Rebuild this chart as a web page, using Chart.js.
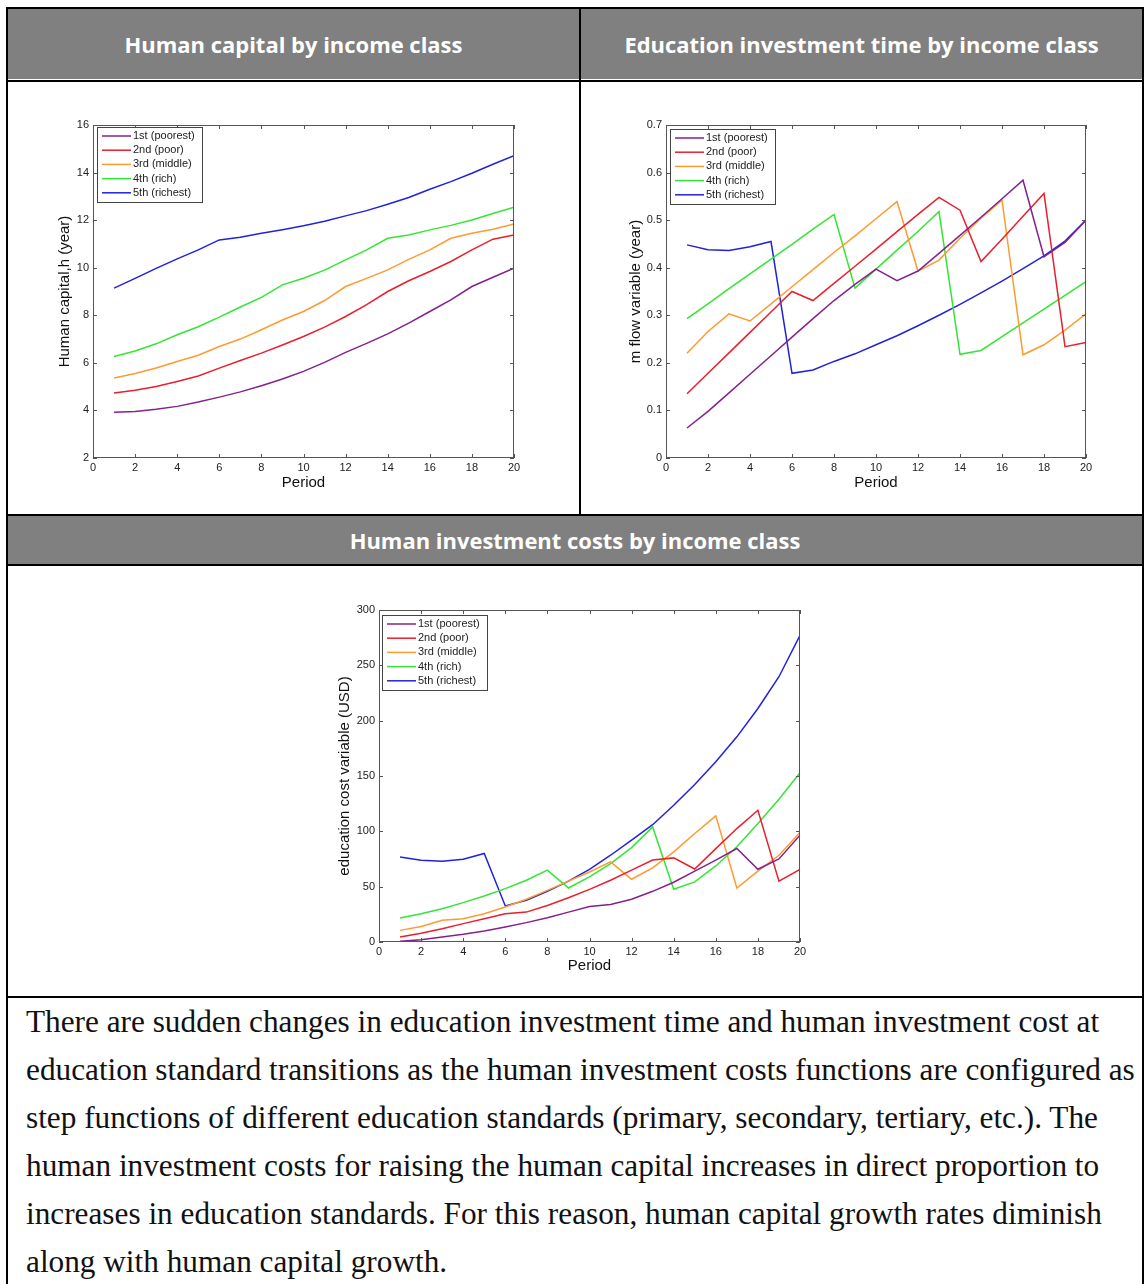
<!DOCTYPE html>
<html>
<head>
<meta charset="utf-8">
<script src="https://cdn.jsdelivr.net/npm/chart.js@4.4.0/dist/chart.umd.min.js"></script>
<style>
  body { margin: 0; background: #fff; width: 1145px; height: 1284px; overflow: hidden; position: relative; }
  .hdr { position: absolute; background: #808080; color: #fff; font-family: 'Open Sans', sans-serif; font-weight: 700; font-size: 20px;
         display: flex; align-items: center; justify-content: center; white-space: nowrap; }
  .ln { position: absolute; background: #000; }
  canvas { position: absolute; }
  #note { position: absolute; left: 26px; top: 998px; font-family: 'Liberation Serif', serif; font-size: 20px; line-height: 48px; white-space: nowrap; color: #111; }
  #note span { display: inline-block; }
</style>
</head>
<body>

<div class="hdr" style="left:8px;top:9px;width:571px;height:70px;">Human capital by income class</div>
<div class="hdr" style="left:581px;top:9px;width:561px;height:70px;">Education investment time by income class</div>
<div class="hdr" style="left:8px;top:516px;width:1134px;height:48px;">Human investment costs by income class</div>

<div class="ln" style="left:6px;top:7px;width:1138px;height:2px;"></div>
<div class="ln" style="left:6px;top:7px;width:2px;height:1277px;"></div>
<div class="ln" style="left:1142px;top:7px;width:2px;height:1277px;"></div>
<div class="ln" style="left:6px;top:80px;width:1138px;height:2px;"></div>
<div class="ln" style="left:579px;top:7px;width:2px;height:508px;"></div>
<div class="ln" style="left:6px;top:514px;width:1138px;height:2px;"></div>
<div class="ln" style="left:6px;top:564px;width:1138px;height:2px;"></div>
<div class="ln" style="left:6px;top:996px;width:1138px;height:2px;"></div>

<canvas id="capChart" width="480" height="390" style="left:50px;top:110px;"></canvas>
<canvas id="timeChart" width="490" height="390" style="left:615px;top:110px;"></canvas>
<canvas id="costChart" width="480" height="390" style="left:330px;top:595px;"></canvas>

<div id="note"></div>

<script>
const periods = [1, 2, 3, 4, 5, 6, 7, 8, 9, 10, 11, 12, 13, 14, 15, 16, 17, 18, 19, 20];
const classNames = ['1st (poorest)', '2nd (poor)', '3rd (middle)', '4th (rich)', '5th (richest)'];
const classColors = ['#86208c', '#e81f2c', '#ff9a30', '#33e633', '#2222d8'];

// human capital h (year)
const capPoorest = [3.92, 3.95, 4.05, 4.17, 4.35, 4.56, 4.78, 5.04, 5.32, 5.64, 6.02, 6.44, 6.82, 7.22, 7.67, 8.16, 8.65, 9.21, 9.6, 9.98];
const capPoor    = [4.73, 4.85, 5.01, 5.22, 5.45, 5.78, 6.1, 6.41, 6.75, 7.11, 7.5, 7.95, 8.45, 9.0, 9.45, 9.84, 10.26, 10.75, 11.2, 11.38];
const capMiddle  = [5.36, 5.55, 5.78, 6.06, 6.32, 6.69, 7.0, 7.39, 7.8, 8.16, 8.62, 9.21, 9.55, 9.91, 10.35, 10.75, 11.24, 11.45, 11.62, 11.84];
const capRich    = [6.27, 6.5, 6.8, 7.18, 7.52, 7.92, 8.35, 8.75, 9.28, 9.56, 9.9, 10.33, 10.75, 11.24, 11.38, 11.59, 11.78, 12.01, 12.28, 12.54];
const capRichest = [9.14, 9.55, 9.97, 10.37, 10.75, 11.17, 11.28, 11.45, 11.6, 11.76, 11.95, 12.18, 12.4, 12.67, 12.95, 13.3, 13.62, 13.97, 14.35, 14.71];

// m flow variable (year)
const timePoorest = [0.063, 0.098, 0.137, 0.176, 0.215, 0.254, 0.293, 0.331, 0.365, 0.397, 0.373, 0.393, 0.43, 0.468, 0.506, 0.545, 0.584, 0.423, 0.453, 0.5];
const timePoor    = [0.135, 0.178, 0.221, 0.264, 0.307, 0.35, 0.331, 0.367, 0.403, 0.439, 0.476, 0.512, 0.548, 0.521, 0.413, 0.46, 0.508, 0.556, 0.234, 0.243];
const timeMiddle  = [0.22, 0.266, 0.303, 0.288, 0.324, 0.36, 0.396, 0.432, 0.467, 0.503, 0.539, 0.393, 0.416, 0.462, 0.504, 0.542, 0.217, 0.238, 0.269, 0.303];
const timeRich    = [0.293, 0.324, 0.356, 0.387, 0.418, 0.449, 0.481, 0.512, 0.357, 0.397, 0.437, 0.476, 0.518, 0.218, 0.226, 0.255, 0.284, 0.313, 0.342, 0.371];
const timeRichest = [0.448, 0.438, 0.436, 0.444, 0.455, 0.178, 0.185, 0.203, 0.219, 0.238, 0.257, 0.278, 0.3, 0.323, 0.347, 0.372, 0.398, 0.425, 0.456, 0.5];

// education cost variable (USD)
const costPoorest = [0.6, 2, 4.5, 7, 10, 13.6, 17.5, 22, 27, 32, 33.8, 38.6, 45.8, 54, 64, 74, 84.5, 65.7, 75, 96.5];
const costPoor    = [4.5, 8, 12, 16.6, 21, 25.6, 27, 33, 40, 47.6, 55.8, 65, 74, 76, 66, 84.4, 102.5, 119, 55, 65.7];
const costMiddle  = [10.5, 14, 19.6, 21, 25.6, 31.7, 38.6, 46.7, 55, 63.3, 72.4, 56.7, 67, 81.4, 98, 114, 48.8, 64, 78.4, 99];
const costRich    = [21.7, 25.6, 30, 35.6, 41.6, 48.2, 55.8, 65, 48.8, 58.8, 70.8, 85.3, 104, 47.6, 54.3, 68.7, 86, 107, 129, 153];
const costRichest = [76.9, 73.9, 73, 74.8, 80, 32.6, 37.7, 45.8, 55, 65.7, 78.4, 92, 106, 123.6, 142.3, 162.8, 185.4, 211, 239.7, 277];

const yTicks = { cap: [2, 16, 2], time: [0, 0.7, 0.1], cost: [0, 300, 50] };
const xTicks = [0, 20, 2];

const noteLines = [
    'There are sudden changes in education investment time and human investment cost at',
    'education standard transitions as the human investment costs functions are configured as',
    'step functions of different education standards (primary, secondary, tertiary, etc.). The',
    'human investment costs for raising the human capital increases in direct proportion to',
    'increases in education standards. For this reason, human capital growth rates diminish',
    'along with human capital growth.'
];

// box with inward ticks and the legend in the upper left corner, matlab style
const matlabFrame = {
    id: 'matlabFrame',
    afterDatasetsDraw(chart, args, opts) {
        const { ctx, chartArea: a, scales: { x, y } } = chart;
        ctx.save();
        ctx.strokeStyle = '#555';
        ctx.lineWidth = 1;
        ctx.strokeRect(a.left + 0.5, a.top + 0.5, a.right - a.left - 1, a.bottom - a.top - 1);
        ctx.beginPath();
        x.ticks.forEach(t => {
            const px = Math.round(x.getPixelForValue(t.value)) + 0.5;
            ctx.moveTo(px, a.bottom); ctx.lineTo(px, a.bottom - 4);
            ctx.moveTo(px, a.top); ctx.lineTo(px, a.top + 4);
        });
        y.ticks.forEach(t => {
            const py = Math.round(y.getPixelForValue(t.value)) + 0.5;
            ctx.moveTo(a.left, py); ctx.lineTo(a.left + 4, py);
            ctx.moveTo(a.right, py); ctx.lineTo(a.right - 4, py);
        });
        ctx.stroke();

        const bx = a.left + opts.dx, by = a.top + opts.dy, bw = 105, rowH = 14.2;
        const bh = rowH * chart.data.datasets.length + 4;
        ctx.fillStyle = '#fff';
        ctx.fillRect(bx, by, bw, bh);
        ctx.strokeStyle = '#444';
        ctx.strokeRect(bx + 0.5, by + 0.5, bw, bh);
        ctx.font = '11px "Liberation Sans", Arial, sans-serif';
        ctx.textBaseline = 'middle';
        chart.data.datasets.forEach((ds, i) => {
            const cy = by + 9 + i * rowH;
            ctx.strokeStyle = ds.borderColor;
            ctx.lineWidth = 1.5;
            ctx.beginPath();
            ctx.moveTo(bx + 5, cy); ctx.lineTo(bx + 34, cy);
            ctx.stroke();
            ctx.fillStyle = '#222';
            ctx.fillText(ds.label, bx + 36, cy);
        });
        ctx.restore();
    }
};

function makeChart(id, series, yRange, yTitle, box) {
    const ctx = document.getElementById(id).getContext('2d');
    const datasets = series.map((vals, i) => ({
        label: classNames[i],
        data: periods.map((p, j) => ({ x: p, y: vals[j] })),
        borderColor: classColors[i],
        borderWidth: 1.5,
        pointRadius: 0,
        tension: 0,
        fill: false
    }));
    const tickFont = { family: '"Liberation Sans", Arial, sans-serif', size: 11 };
    const titleFont = { family: '"Liberation Sans", Arial, sans-serif', size: 15 };
    return new Chart(ctx, {
        type: 'line',
        data: { datasets: datasets },
        options: {
            responsive: false,
            animation: false,
            layout: { padding: { top: 15, right: box.padRight, left: 0, bottom: 0 } },
            plugins: {
                legend: { display: false },
                tooltip: { enabled: false },
                matlabFrame: { dx: box.legX, dy: box.legY }
            },
            scales: {
                x: {
                    type: 'linear',
                    min: xTicks[0], max: xTicks[1],
                    ticks: { stepSize: xTicks[2], color: '#222', font: tickFont, padding: 3, maxRotation: 0 },
                    grid: { display: false, drawTicks: false },
                    border: { display: false },
                    title: { display: true, text: 'Period', color: '#111', font: titleFont, padding: { top: 0, bottom: box.xTitlePad } },
                    afterFit: s => { s.height = box.xHeight; }
                },
                y: {
                    min: yRange[0], max: yRange[1],
                    ticks: { stepSize: yRange[2], color: '#222', font: tickFont, padding: 4 },
                    grid: { display: false, drawTicks: false },
                    border: { display: false },
                    title: { display: true, text: yTitle, color: '#111', font: titleFont, padding: { top: box.yTitlePad, bottom: 0 } },
                    afterFit: s => { s.width = box.yWidth; }
                }
            }
        },
        plugins: [matlabFrame]
    });
}

makeChart('capChart', [capPoorest, capPoor, capMiddle, capRich, capRichest], yTicks.cap, 'Human capital,h (year)',
    { padRight: 16, yWidth: 43, xHeight: 42, xTitlePad: 8, yTitlePad: 6, legX: 4, legY: 2 });
makeChart('timeChart', [timePoorest, timePoor, timeMiddle, timeRich, timeRichest], yTicks.time, 'm flow variable (year)',
    { padRight: 19, yWidth: 51, xHeight: 42, xTitlePad: 8, yTitlePad: 12, legX: 4, legY: 4 });
makeChart('costChart', [costPoorest, costPoor, costMiddle, costRich, costRichest], yTicks.cost, 'education cost variable (USD)',
    { padRight: 10, yWidth: 49, xHeight: 43, xTitlePad: 10, yTitlePad: 6, legX: 3, legY: 5 });

// header text: scale Open Sans so the first title spans the same width as in the table
const first = document.querySelector('.hdr');
const probe = document.createElement('span');
probe.textContent = first.textContent;
first.appendChild(probe);
const hdrSize = 20 * 338 / probe.getBoundingClientRect().width;
first.removeChild(probe);
document.querySelectorAll('.hdr').forEach(h => { h.style.fontSize = hdrSize.toFixed(2) + 'px'; });

// paragraph: one span per line, sized so the longest line fills the cell
const note = document.getElementById('note');
note.innerHTML = noteLines.map(l => '<span>' + l + '</span>').join('<br>');
const longest = note.querySelectorAll('span')[1].getBoundingClientRect().width;
note.style.fontSize = (20 * 1109 / longest).toFixed(2) + 'px';
</script>
</body>
</html>
